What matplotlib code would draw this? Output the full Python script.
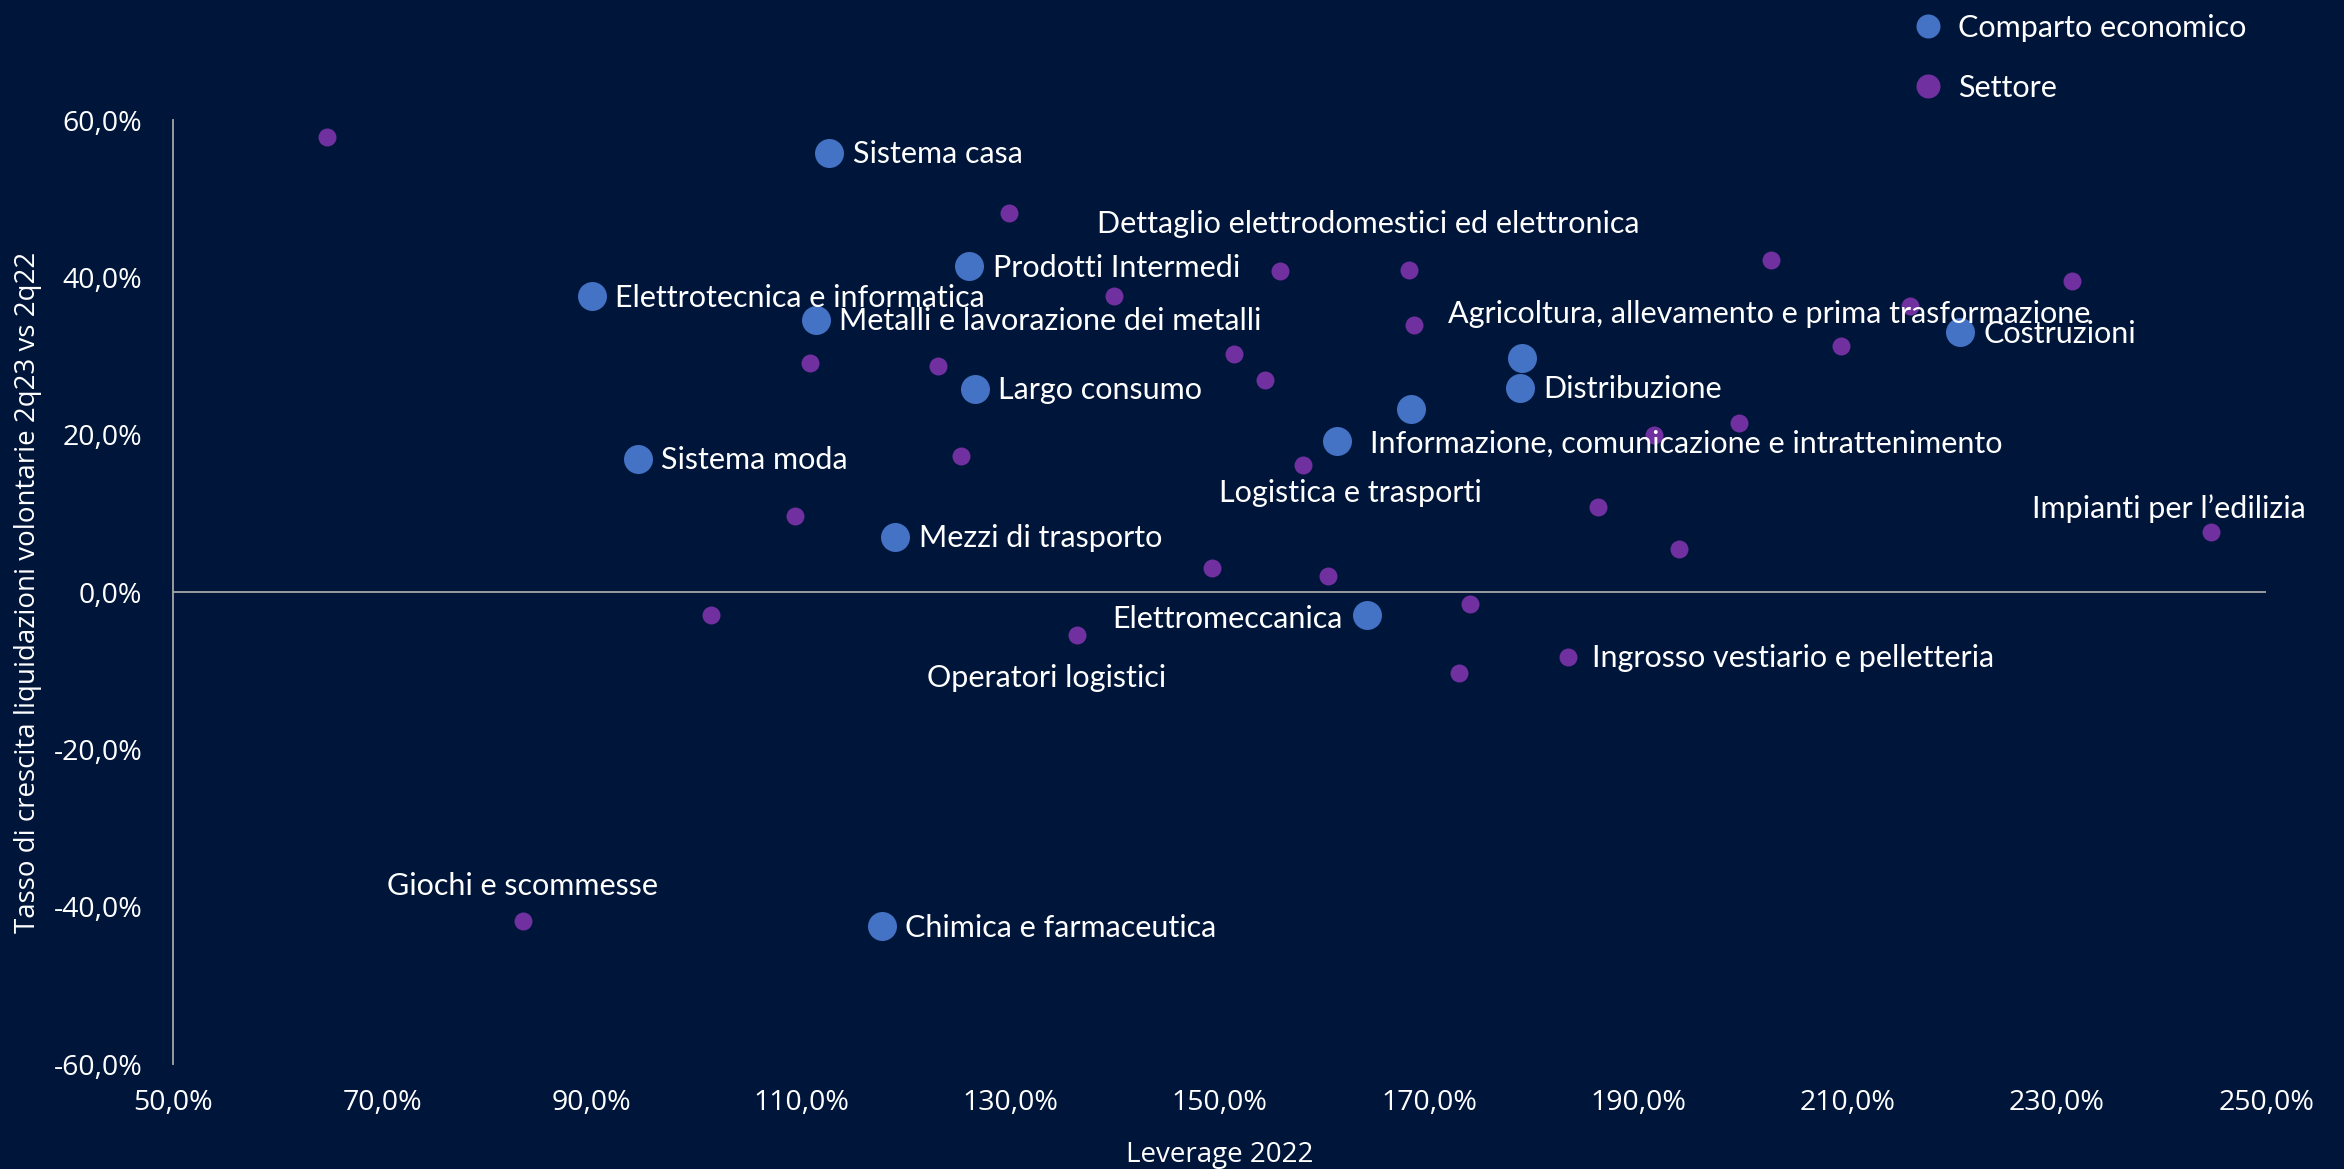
import matplotlib
matplotlib.use('Agg')
import matplotlib.pyplot as plt
from matplotlib.lines import Line2D
from matplotlib.ticker import FuncFormatter

# comparto economico (punti blu grandi)
comparto_nomi = ['Sistema casa', 'Prodotti Intermedi', 'Elettrotecnica e informatica',
                 'Metalli e lavorazione dei metalli', 'Largo consumo', 'Sistema moda',
                 'Mezzi di trasporto', 'Chimica e farmaceutica', 'Elettromeccanica',
                 'Informazione, comunicazione e intrattenimento', 'Logistica e trasporti',
                 'Distribuzione', 'Agricoltura, allevamento e prima trasformazione', 'Costruzioni']
comparto_leva = [112.7, 126.1, 90.0, 111.4, 126.6, 94.4, 119.0, 117.7, 164.1, 161.2, 168.3, 178.7, 178.9, 220.7]
comparto_crescita = [55.8, 41.4, 37.6, 34.6, 25.8, 16.9, 7.0, -42.5, -2.9, 19.2, 23.3, 26.0, 29.7, 33.0]

# settori (punti viola piccoli)
settore_nomi = ['', '', '', '', 'Dettaglio elettrodomestici ed elettronica', '', '', '', '', '',
                '', '', '', '', '', '', '', '', '', '',
                '', 'Impianti per l\u2019edilizia', '', '', '', '', 'Operatori logistici',
                'Ingrosso vestiario e pelletteria', '', 'Giochi e scommesse']
settore_leva = [64.7, 129.9, 139.9, 155.8, 168.1, 168.6, 202.7, 231.4, 216.0, 209.4,
                110.9, 123.1, 151.4, 154.3, 199.6, 191.5, 125.3, 158.0, 109.4, 186.2,
                193.9, 244.7, 149.3, 160.4, 101.4, 173.9, 136.4, 183.3, 172.9, 83.4]
settore_crescita = [57.9, 48.2, 37.6, 40.8, 41.0, 34.0, 42.2, 39.5, 36.3, 31.3,
                    29.1, 28.7, 30.2, 26.9, 21.5, 19.9, 17.3, 16.2, 9.7, 10.8,
                    5.5, 7.6, 3.0, 2.1, -2.9, -1.5, -5.5, -8.2, -10.3, -41.8]

x_ticks = [50, 70, 90, 110, 130, 150, 170, 190, 210, 230, 250]
y_ticks = [-60, -40, -20, 0, 20, 40, 60]

# posizione delle etichette (dx, dy in punti, allineamento)
label_pos = {
    'Elettromeccanica': (-18, -3, 'right'),
    'Informazione, comunicazione e intrattenimento': (24, -2, 'left'),
    'Logistica e trasporti': (-44, -61, 'center'),
    'Agricoltura, allevamento e prima trasformazione': (-53, 32, 'left'),
    'Dettaglio elettrodomestici ed elettronica': (-29, 33, 'center'),
    'Impianti per l\u2019edilizia': (-30, 17, 'center'),
    'Operatori logistici': (-22, -31, 'center'),
    'Giochi e scommesse': (0, 25, 'center'),
}

bg = '#00153a'
blu = '#4472c4'
viola = '#7030a0'
grigio = '#a6a6a6'
font_lab = 'Lato'
font_ax = 'Open Sans'

fig = plt.figure(figsize=(23.44, 11.69), dpi=100, facecolor=bg)
ax = fig.add_axes([0.0738, 0.0898, 0.8930, 0.8075])
ax.set_facecolor(bg)

ax.scatter(settore_leva, settore_crescita, s=168, color=viola, linewidths=0, zorder=3)
ax.scatter(comparto_leva, comparto_crescita, s=436, color=blu, linewidths=0, zorder=3)

def etichetta(nome, x, y):
    dx, dy, ha = label_pos.get(nome, (17, -1, 'left'))
    ax.annotate(nome, (x, y), xytext=(dx, dy), textcoords='offset points',
                ha=ha, va='center', color='white', fontsize=22, family=font_lab,
                zorder=4, annotation_clip=False)

for n, x, y in zip(comparto_nomi, comparto_leva, comparto_crescita):
    etichetta(n, x, y)
for n, x, y in zip(settore_nomi, settore_leva, settore_crescita):
    if n:
        etichetta(n, x, y)

ax.set_xlim(50, 250)
ax.set_ylim(-60, 60)
ax.set_xticks(x_ticks)
ax.set_yticks(y_ticks)
fmt = FuncFormatter(lambda v, p: f'{v:.1f}%'.replace('.', ','))
ax.xaxis.set_major_formatter(fmt)
ax.yaxis.set_major_formatter(fmt)
ax.tick_params(axis='both', length=0, colors='white', labelsize=20.5)
ax.tick_params(axis='y', pad=22)
ax.tick_params(axis='x', pad=18)
for t in ax.get_xticklabels() + ax.get_yticklabels():
    t.set_family(font_ax)

for s in ['top', 'right', 'bottom']:
    ax.spines[s].set_visible(False)
ax.spines['left'].set_color(grigio)
ax.spines['left'].set_linewidth(1.3)
ax.axhline(0, color=grigio, linewidth=1.3, zorder=1)

ax.set_xlabel('Leverage 2022', color='white', fontsize=20, family=font_ax, va='center')
ax.xaxis.set_label_coords(0.5, -0.0964)
ax.set_ylabel('Tasso di crescita liquidazioni volontarie 2q23 vs 2q22', color='white',
              fontsize=20, family=font_ax)
ax.yaxis.set_label_coords(-0.0626, 0.5)

handles = [Line2D([], [], marker='o', linestyle='', markersize=17.3, color=blu, markeredgewidth=0),
           Line2D([], [], marker='o', linestyle='', markersize=17.3, color=viola, markeredgewidth=0)]
leg = fig.legend(handles, ['Comparto economico', 'Settore'], loc='upper left',
                 bbox_to_anchor=(0.8093, 1.0010), frameon=False, handlelength=1.0,
                 handletextpad=0.5, borderpad=0, labelspacing=1.05,
                 prop={'family': font_lab, 'size': 22})
for t in leg.get_texts():
    t.set_color('white')

fig.savefig('out.png', dpi=100, facecolor=bg)
